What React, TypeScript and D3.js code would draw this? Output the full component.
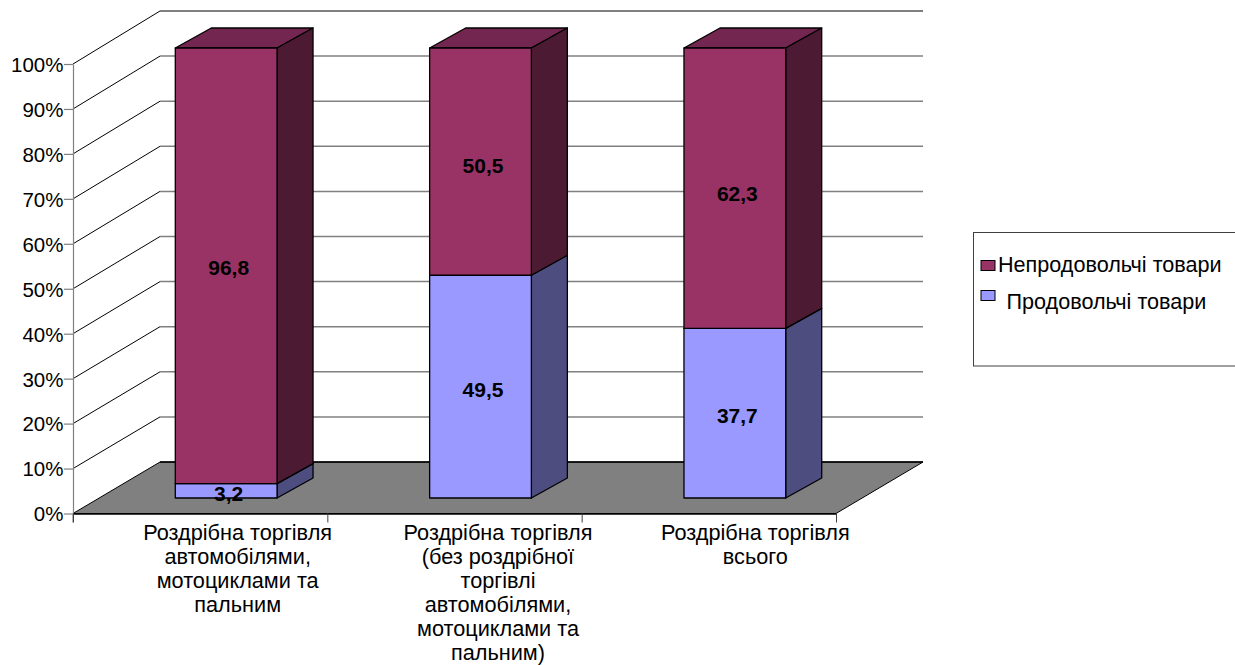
import React, { useRef, useEffect } from 'react';
import * as d3 from 'd3';

const categories = ['auto', 'noauto', 'total'];
const categoryLines = [
  ['Роздрібна торгівля', 'автомобілями,', 'мотоциклами та', 'пальним'],
  ['Роздрібна торгівля', '(без роздрібної', 'торгівлі', 'автомобілями,', 'мотоциклами та', 'пальним)'],
  ['Роздрібна торгівля', 'всього'],
];
const foodValues = [3.2, 49.5, 37.7];
const nonFoodValues = [96.8, 50.5, 62.3];
const foodLabels = ['3,2', '49,5', '37,7'];
const nonFoodLabels = ['96,8', '50,5', '62,3'];
const legendNames = ['Непродовольчі товари', 'Продовольчі товари'];
const percentTicks = [0, 10, 20, 30, 40, 50, 60, 70, 80, 90, 100];

const WIDTH = 1235;
const HEIGHT = 665;
const FONT = '"Liberation Sans", Arial, sans-serif';

const App: React.FC = () => {
  const svgRef = useRef<SVGSVGElement>(null);

  useEffect(() => {
    if (!svgRef.current) return;
    const svg = d3.select(svgRef.current);
    svg.selectAll('*').remove();

    // front plane and back wall of the 3d box
    const x = d3.scaleBand<string>().domain(categories).range([73, 836]);
    const yFront = d3.scaleLinear().domain([0, 100]).range([513.5, 64]);
    const yBack = d3.scaleLinear().domain([0, 100]).range([462, 11]);
    const yBar = d3.scaleLinear().domain([0, 100]).range([498, 48]);
    const backDx = 87;
    const barDx = 36;
    const barDy = 20;
    const barOffset = 26;
    const barWidth = x.bandwidth() * 0.4;

    const line = d3.line();

    // floor
    svg.append('path')
      .attr('d', line([[73, yFront(0)], [73 + backDx, yBack(0)], [836 + backDx, yBack(0)], [836, yFront(0)]])! + 'Z')
      .attr('fill', '#808080')
      .attr('stroke', '#000')
      .attr('stroke-width', 1);
    svg.append('line')
      .attr('x1', 73 + backDx).attr('x2', 836 + backDx)
      .attr('y1', yBack(0)).attr('y2', yBack(0))
      .attr('stroke', '#000').attr('stroke-width', 1.5);

    // grid on the side and back walls
    percentTicks.filter(t => t > 0).forEach(t => {
      svg.append('line')
        .attr('x1', 73).attr('y1', yFront(t))
        .attr('x2', 73 + backDx).attr('y2', yBack(t))
        .attr('stroke', '#000').attr('stroke-width', 1);
      svg.append('line')
        .attr('x1', 73 + backDx).attr('y1', yBack(t))
        .attr('x2', 836 + backDx).attr('y2', yBack(t))
        .attr('stroke', t === 100 ? '#000' : '#808080')
        .attr('stroke-width', t === 100 ? 1 : 1.5);
    });

    // y axis
    const yAxis = svg.append('g')
      .attr('transform', 'translate(73,0)')
      .call(d3.axisLeft(yFront).tickValues(percentTicks).tickFormat(d => `${d}%`).tickSize(9).tickSizeOuter(0));
    yAxis.selectAll('path,line').attr('stroke', '#808080').attr('stroke-width', 1.2);
    yAxis.selectAll('text')
      .attr('x', -9.5)
      .attr('dy', '0.36em')
      .style('font-family', FONT)
      .style('font-size', '20.5px')
      .attr('fill', '#000');
    svg.append('line')
      .attr('x1', 73).attr('x2', 73)
      .attr('y1', yFront(0)).attr('y2', yFront(0) + 9)
      .attr('stroke', '#808080').attr('stroke-width', 1.2);

    // x axis
    const xAxis = svg.append('g')
      .attr('transform', `translate(0,${yFront(0)})`)
      .call(d3.axisBottom(d3.scaleLinear().domain([0, 3]).range([73, 836])).tickValues([0, 1, 2, 3]).tickSize(9).tickSizeOuter(0).tickFormat(() => ''));
    xAxis.selectAll('path').attr('stroke', '#000').attr('stroke-width', 1.3);
    xAxis.selectAll('line').attr('stroke', '#404040').attr('stroke-width', 1);

    // category labels are not centred on their bands in the original
    const labelShift = [37.5, 43.5, 46.5];
    categories.forEach((c, i) => {
      const text = svg.append('text')
        .attr('text-anchor', 'middle')
        .style('font-family', FONT)
        .style('font-size', '21.7px')
        .attr('fill', '#000');
      categoryLines[i].forEach((l, j) => {
        text.append('tspan')
          .attr('x', x(c)! + x.bandwidth() / 2 + labelShift[i])
          .attr('y', 539.5 + j * 24.1)
          .text(l);
      });
    });

    // stacked 3d bars
    const drawBox = (left: number, from: number, to: number, face: string, top: string, side: string) => {
      const right = left + barWidth;
      const y0 = yBar(from);
      const y1 = yBar(to);
      const g = svg.append('g').attr('stroke', '#000').attr('stroke-width', 1.3).attr('stroke-linejoin', 'round');
      g.append('path')
        .attr('d', line([[left, y1], [left + barDx, y1 - barDy], [right + barDx, y1 - barDy], [right, y1]])! + 'Z')
        .attr('fill', top);
      g.append('path')
        .attr('d', line([[right, y0], [right + barDx, y0 - barDy], [right + barDx, y1 - barDy], [right, y1]])! + 'Z')
        .attr('fill', side);
      g.append('rect')
        .attr('x', left).attr('y', y1)
        .attr('width', barWidth).attr('height', y0 - y1)
        .attr('fill', face);
    };

    categories.forEach((c, i) => {
      const left = x(c)! + x.bandwidth() / 2 + barOffset - barWidth / 2;
      const food = foodValues[i];
      drawBox(left, 0, food, '#9999FF', '#7373BF', '#4D4D80');
      drawBox(left, food, food + nonFoodValues[i], '#993366', '#732650', '#4D1A33');
    });

    // value labels, nudged a little off the segment centres like the original
    const valueLabel = (i: number, from: number, to: number, label: string, dy: number) => {
      svg.append('text')
        .attr('x', x(categories[i])! + x.bandwidth() / 2 + barOffset + 2.5)
        .attr('y', yBar((from + to) / 2) + dy)
        .attr('dy', '0.36em')
        .attr('text-anchor', 'middle')
        .style('font-family', FONT)
        .style('font-size', '21px')
        .style('font-weight', 'bold')
        .attr('fill', '#000')
        .text(label);
    };
    const foodShift = [3, 3, 2.5];
    const nonFoodShift = [1.5, 3.5, 5];
    categories.forEach((_, i) => {
      valueLabel(i, 0, foodValues[i], foodLabels[i], foodShift[i]);
      valueLabel(i, foodValues[i], foodValues[i] + nonFoodValues[i], nonFoodLabels[i], nonFoodShift[i]);
    });

    // legend
    svg.append('rect')
      .attr('x', 973.5).attr('y', 232.5)
      .attr('width', 270).attr('height', 133.5)
      .attr('fill', '#fff').attr('stroke', '#404040').attr('stroke-width', 1);
    const legend = [
      { name: legendNames[0], color: '#993366', swatchY: 260.5, textX: 998, textY: 272 },
      { name: legendNames[1], color: '#9999FF', swatchY: 290.5, textX: 1006.5, textY: 309 },
    ];
    legend.forEach(d => {
      svg.append('rect')
        .attr('x', 981).attr('y', d.swatchY)
        .attr('width', 14).attr('height', 10)
        .attr('fill', d.color).attr('stroke', '#000').attr('stroke-width', 1);
      svg.append('text')
        .attr('x', d.textX).attr('y', d.textY)
        .style('font-family', FONT)
        .style('font-size', '21.6px')
        .attr('fill', '#000')
        .text(d.name);
    });
  }, []);

  return (
    <svg
      ref={svgRef}
      width={WIDTH}
      height={HEIGHT}
      style={{ position: 'absolute', left: 0, top: 0, background: '#fff' }}
    />
  );
};

export default App;
